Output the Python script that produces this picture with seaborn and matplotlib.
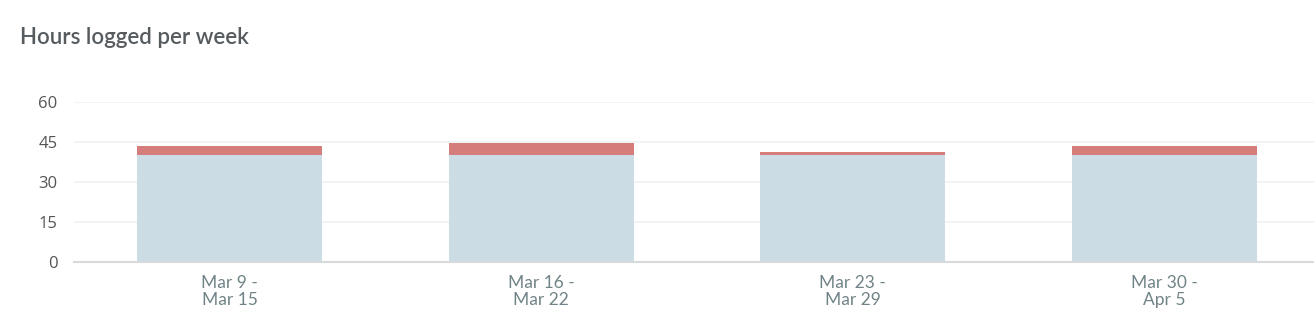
import matplotlib
matplotlib.use("Agg")
import matplotlib.pyplot as plt
import seaborn as sns
import pandas as pd

weeks = ["Mar 9 -\nMar 15", "Mar 16 -\nMar 22", "Mar 23 -\nMar 29", "Mar 30 -\nApr 5"]
regular_hours = [40, 40, 40, 40]
extra_hours = [3.5, 4.6, 1.2, 3.4]
y_ticks = [0, 15, 30, 45, 60]

df = pd.DataFrame({"week": weeks, "regular": regular_hours, "extra": extra_hours})
df["total"] = df["regular"] + df["extra"]

sns.set_theme(style="white")
plt.rcParams["font.family"] = ["Lato", "DejaVu Sans"]

fig = plt.figure(figsize=(13.14, 3.32), dpi=100)
ax = fig.add_axes([74 / 1314, 70 / 332, (1314 - 74) / 1314, 160 / 332])

sns.barplot(data=df, x="week", y="total", color="#D47D7B", saturation=1, width=0.594, ax=ax, linewidth=0)
sns.barplot(data=df, x="week", y="regular", color="#CCDCE4", saturation=1, width=0.594, ax=ax, linewidth=0)

ax.set_ylim(0, 60)
ax.set_xlim(-0.5, 3.48)
ax.set_yticks(y_ticks)
ax.set_yticklabels([str(t) for t in y_ticks], fontsize=12, color="#555555", family=["Open Sans", "DejaVu Sans"])
for t in ax.get_xticklabels():
    t.set_fontsize(12.5)
    t.set_color("#708386")
    t.set_linespacing(1.08)
ax.tick_params(axis="x", length=0, pad=9)
ax.tick_params(axis="y", length=0, pad=12)
ax.set_xlabel("")
ax.set_ylabel("")
ax.set_axisbelow(True)
ax.yaxis.grid(True, color="#EEF2F2", linewidth=1.2)
for s in ["top", "right", "left"]:
    ax.spines[s].set_visible(False)
ax.spines["bottom"].set_color("#D6DADB")
ax.spines["bottom"].set_linewidth(1.5)

fig.text(20 / 1314, 1 - 37 / 332, "Hours logged per week", fontsize=16, color="#555B5F",
         fontweight="semibold", va="center", ha="left")

fig.savefig("out.png", dpi=100)
